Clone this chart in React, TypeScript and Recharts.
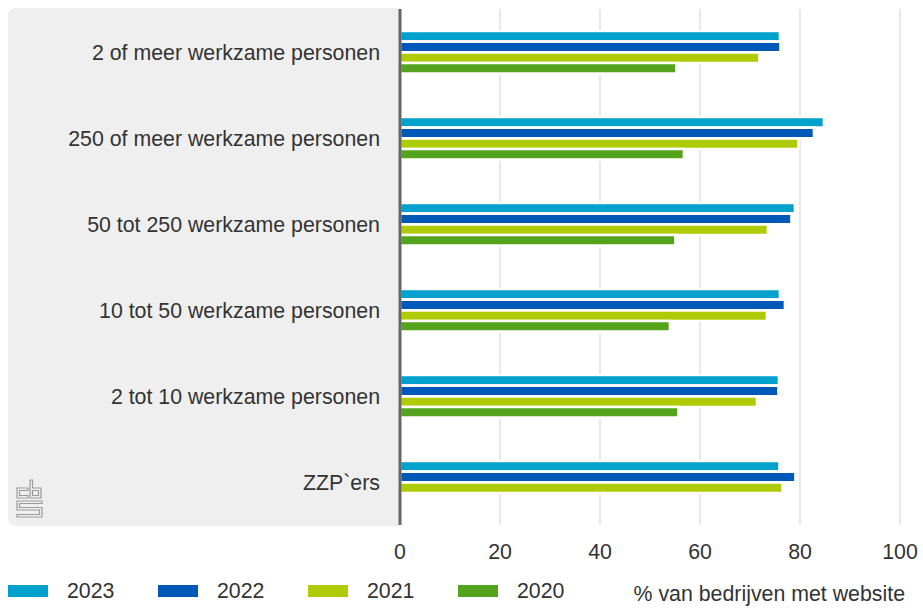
import { BarChart, Bar, XAxis, YAxis, CartesianGrid, Legend, Label } from "recharts";

const categories = [
  "2 of meer werkzame personen",
  "250 of meer werkzame personen",
  "50 tot 250 werkzame personen",
  "10 tot 50 werkzame personen",
  "2 tot 10 werkzame personen",
  "ZZP`ers",
];
const values2023 = [76.0, 84.8, 79.0, 76.0, 75.8, 75.9];
const values2022 = [76.1, 82.8, 78.3, 77.0, 75.7, 79.1];
const values2021 = [71.9, 79.7, 73.6, 73.4, 71.4, 76.5];
const values2020 = [55.3, 56.8, 55.1, 54.0, 55.7, null];
const xTicks = [0, 20, 40, 60, 80, 100];

const series = [
  { key: "y2023", name: "2023", color: "#00a1cd" },
  { key: "y2022", name: "2022", color: "#0058b8" },
  { key: "y2021", name: "2021", color: "#afcb05" },
  { key: "y2020", name: "2020", color: "#53a31d" },
];

const data = categories.map((name, i) => ({
  name,
  y2023: values2023[i],
  y2022: values2022[i],
  y2021: values2021[i],
  y2020: values2020[i],
}));

const textColor = "#333333";
const fontSize = 21.33;

const renderLegend = () => (
  <div style={{ display: "flex" }}>
    {series.map((s) => (
      <div key={s.key} style={{ display: "flex", alignItems: "center", width: 150, height: 24 }}>
        <span style={{ width: 40, height: 12, background: s.color, marginRight: 19 }} />
        <span style={{ fontSize, lineHeight: "24px", color: textColor }}>{s.name}</span>
      </div>
    ))}
  </div>
);

const renderTitle = (props: any) => {
  const vb = props.viewBox;
  return (
    <text x={vb.x + vb.width + 5} y={vb.y + 76} textAnchor="end" fill={textColor} fontSize={fontSize}>
      % van bedrijven met website
    </text>
  );
};

// grijs vlak achter de labels + cbs logo
function Backdrop() {
  return (
    <svg width={923} height={608} style={{ position: "absolute", left: 0, top: 0 }}>
      <path d="M16 8 H399 V526 H16 Q8 526 8 518 V16 Q8 8 16 8 Z" fill="#efefef" />
      <g fill="none" stroke="#9b9b9b" strokeWidth={1.2}>
        <path d="M28 488 H17 V498 H28 V495.5 H19.5 V490.5 H28 Z" />
        <path d="M30 480 H32.5 V488 H41 V498 H30 Z" />
        <path d="M32.5 490.5 H38.5 V495.5 H32.5 Z" />
        <path d="M17 501 H42 V503.5 H19.5 V507.5 H42 V517 H17 V514.5 H39.5 V510 H17 Z" />
      </g>
    </svg>
  );
}

export default function App() {
  return (
    <div
      style={{
        position: "absolute",
        left: 0,
        top: 0,
        width: 923,
        height: 608,
        fontFamily: "'Liberation Sans', Arial, sans-serif",
      }}
    >
      <Backdrop />
      <BarChart
        width={923}
        height={608}
        data={data}
        layout="vertical"
        margin={{ top: 9, right: 23, left: 0, bottom: 0 }}
        barSize={10.67}
        barGap={0}
        style={{ position: "absolute", left: 0, top: 0 }}
      >
        <CartesianGrid horizontal={false} stroke="#e8e8e8" strokeWidth={2} />
        <XAxis
          type="number"
          domain={[0, 100]}
          ticks={xTicks}
          axisLine={false}
          tickLine={false}
          tickSize={0}
          tickMargin={19}
          height={83}
          tick={{ fill: textColor, fontSize }}
        >
          <Label content={renderTitle} />
        </XAxis>
        <YAxis
          type="category"
          dataKey="name"
          width={400}
          tickLine={false}
          tickSize={0}
          tickMargin={20}
          axisLine={{ stroke: "#666666", strokeWidth: 3 }}
          tick={{ fill: textColor, fontSize }}
        />
        <Legend
          layout="horizontal"
          verticalAlign="middle"
          align="center"
          content={renderLegend}
          wrapperStyle={{ position: "absolute", left: 8, top: 579, width: 620 }}
        />
        {series.map((s) => (
          <Bar
            key={s.key}
            dataKey={s.key}
            name={s.name}
            fill={s.color}
            stroke="#ffffff"
            strokeWidth={2.67}
            isAnimationActive={false}
          />
        ))}
      </BarChart>
    </div>
  );
}
